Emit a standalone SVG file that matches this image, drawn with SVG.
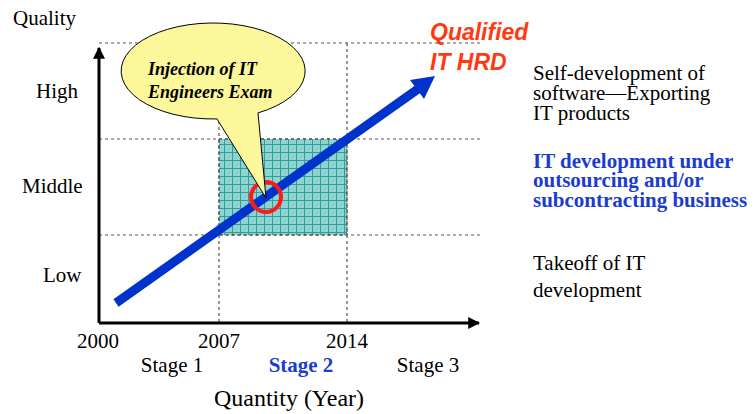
<svg xmlns="http://www.w3.org/2000/svg" width="753" height="414" viewBox="0 0 753 414">
<style>
.t{font-family:"Liberation Serif","Times New Roman",serif;font-size:21px;fill:#000}
.b{font-weight:bold;fill:#1a3cd0}
.bi{font-family:"Liberation Serif","Times New Roman",serif;font-size:18px;font-weight:bold;font-style:italic;fill:#000}
.q{font-family:"Liberation Sans",Arial,sans-serif;font-size:23px;font-weight:bold;font-style:italic;fill:#ff3a10}
.dash{stroke:#555;stroke-width:1.2;stroke-dasharray:3,3;fill:none}
.ax{stroke:#000;stroke-width:3;fill:none}
</style>
<defs>
<pattern id="grid" width="8" height="8" patternUnits="userSpaceOnUse">
<rect width="8" height="8" fill="#8fd3d0"/>
<path d="M0 0.5H8M0.5 0V8" stroke="#2a9f9c" stroke-width="1"/>
</pattern>
<marker id="ah" viewBox="0 0 10 10" refX="9" refY="5" markerWidth="4" markerHeight="4" orient="auto" markerUnits="strokeWidth">
<path d="M0 0L10 5L0 10z" fill="#000"/>
</marker>
</defs>
<rect width="753" height="414" fill="#fff"/>
<g id="grid-lines">
<rect x="219" y="139" width="128" height="96" fill="url(#grid)" stroke="#333" stroke-width="1" stroke-dasharray="3,3"/>
<path class="dash" d="M99 43H480M99 139H480M99 235H480M219 43V323M347 43V323"/>
</g>
<g id="axes">
<line class="ax" x1="99" y1="323" x2="99" y2="48" marker-end="url(#ah)"/>
<line class="ax" x1="99" y1="323" x2="479" y2="323" marker-end="url(#ah)"/>
</g>
<g id="connectors">
<line x1="116" y1="303" x2="418" y2="89" stroke="#0033cc" stroke-width="9"/>
<polygon points="435,76 410,80 424,99" fill="#0033cc"/>
</g>
<g id="circle">
<circle cx="266" cy="197" r="15" fill="none" stroke="#ff1a1a" stroke-width="4"/>
</g>
<g id="bubble">
<path d="M217 118.95 A92 48 0 1 1 258 112.9 L266 198 Z" fill="#fbf79a" stroke="#000" stroke-width="1"/>
<text class="bi" x="148" y="75">Injection of IT</text>
<text class="bi" x="148" y="98">Engineers Exam</text>
</g>
<g id="qualified">
<text class="q" x="430" y="40">Qualified</text>
<text class="q" x="430" y="70">IT HRD</text>
</g>
<g id="y-labels">
<text class="t" x="13" y="25">Quality</text>
<text class="t" x="36" y="98">High</text>
<text class="t" x="22" y="193">Middle</text>
<text class="t" x="43" y="282">Low</text>
</g>
<g id="x-labels">
<text class="t" x="98" y="348" text-anchor="middle">2000</text>
<text class="t" x="219" y="348" text-anchor="middle">2007</text>
<text class="t" x="347" y="348" text-anchor="middle">2014</text>
<text class="t" x="172" y="372" text-anchor="middle">Stage 1</text>
<text class="t b" x="301" y="372" text-anchor="middle">Stage 2</text>
<text class="t" x="428" y="372" text-anchor="middle">Stage 3</text>
<text class="t" x="289" y="406" text-anchor="middle" style="font-size:24px">Quantity (Year)</text>
</g>
<g id="high-desc">
<text class="t" x="533" y="80">Self-development of</text>
<text class="t" x="533" y="100">software—Exporting</text>
<text class="t" x="533" y="120">IT products</text>
</g>
<g id="middle-desc">
<text class="t b" x="533" y="168">IT development under</text>
<text class="t b" x="533" y="187">outsourcing and/or</text>
<text class="t b" x="533" y="207">subcontracting business</text>
</g>
<g id="low-desc">
<text class="t" x="533" y="270">Takeoff of IT</text>
<text class="t" x="533" y="297">development</text>
</g>
</svg>
